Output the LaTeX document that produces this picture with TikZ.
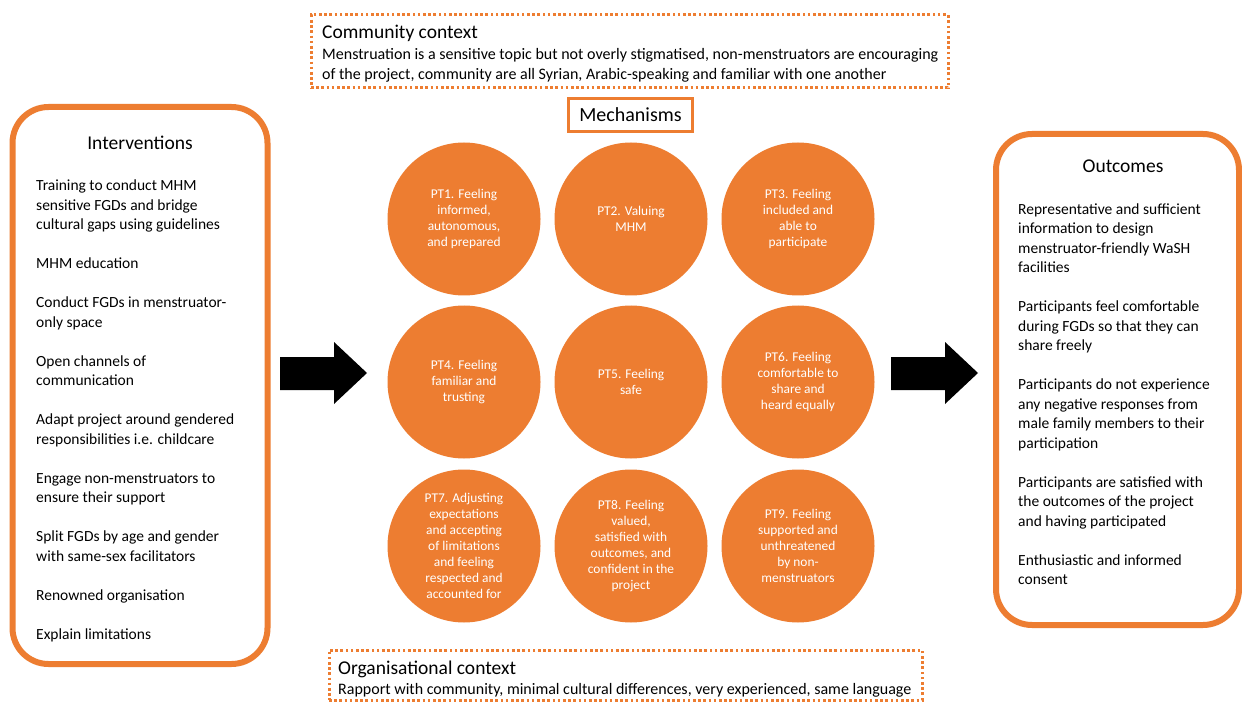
\documentclass[tikz,border=0pt]{standalone}
\usepackage{fontspec}
\setmainfont{Carlito}
\definecolor{accent}{HTML}{ED7D31}
\begin{document}
\begin{tikzpicture}[x=1pt,y=-1pt,
  panel/.style={draw=accent,line width=6pt,rounded corners=36pt,fill=white},
  contextbox/.style={draw=accent,line width=3pt,dash pattern=on 2.6pt off 2.6pt},
  mechbox/.style={draw=accent,line width=3.5pt,inner sep=0pt,minimum width=124pt,minimum height=33pt,
    font=\fontsize{20}{24}\selectfont},
  ptcircle/.style={circle,fill=accent,minimum size=153pt,inner sep=0pt,text=white,align=center,
    font=\fontsize{13.4}{16}\selectfont},
  heading/.style={inner sep=0pt,font=\fontsize{19.5}{23}\selectfont},
  bodytext/.style={inner sep=0pt,align=left,anchor=north west,font=\fontsize{15.5}{19.5}\selectfont},
  contexttext/.style={inner sep=0pt,align=left,font=\fontsize{16}{20}\selectfont},
  blockarrow/.style={fill=black}
]
\useasboundingbox[fill=white] (0,0) rectangle (1242,703);

% context boxes
\node[contextbox,minimum width=637pt,minimum height=73pt,inner sep=0pt] (community) at (629.5,51.5) {};
\node[heading,anchor=base west] (communityhead) at (322,39) {Community context};
\node[contexttext,anchor=north west] (communitytext) at (322,48)
  {Menstruation is a sensitive topic but not overly stigmatised, non-menstruators are encouraging\\
   of the project, community are all Syrian, Arabic-speaking and familiar with one another};

\node[contextbox,minimum width=593pt,minimum height=50pt,inner sep=0pt] (organisation) at (625.5,675) {};
\node[heading,anchor=base west] (orghead) at (338,674) {Organisational context};
\node[contexttext,anchor=base west] (orgtext) at (338,694)
  {Rapport with community, minimal cultural differences, very experienced, same language};

% side panels
\node[panel,minimum width=255pt,minimum height=557pt] (interventions) at (140,385.5) {};
\node[heading,anchor=base] (inthead) at (140,150) {Interventions};
\node[bodytext] (inttext) at (36,180)
  {Training to conduct MHM\\
   sensitive FGDs and bridge\\
   cultural gaps using guidelines\\[19.5pt]
   MHM education\\[19.5pt]
   Conduct FGDs in menstruator-\\
   only space\\[19.5pt]
   Open channels of\\
   communication\\[19.5pt]
   Adapt project around gendered\\
   responsibilities i.e. childcare\\[19.5pt]
   Engage non-menstruators to\\
   ensure their support\\[19.5pt]
   Split FGDs by age and gender\\
   with same-sex facilitators\\[19.5pt]
   Renowned organisation\\[19.5pt]
   Explain limitations};

\node[panel,minimum width=243pt,minimum height=491pt] (outcomes) at (1117.5,379.5) {};
\node[heading,anchor=base] (outhead) at (1123,173) {Outcomes};
\node[bodytext] (outtext) at (1018,203.5)
  {Representative and sufficient\\
   information to design\\
   menstruator-friendly WaSH\\
   facilities\\[19.5pt]
   Participants feel comfortable\\
   during FGDs so that they can\\
   share freely\\[19.5pt]
   Participants do not experience\\
   any negative responses from\\
   male family members to their\\
   participation\\[19.5pt]
   Participants are satisfied with\\
   the outcomes of the project\\
   and having participated\\[19.5pt]
   Enthusiastic and informed\\
   consent};

% mechanisms
\node[mechbox] (mech) at (630.5,115) {Mechanisms};

\node[ptcircle] (pt1) at (464,219) {PT1. Feeling\\informed,\\autonomous,\\and prepared};
\node[ptcircle] (pt2) at (631,219) {PT2. Valuing\\MHM};
\node[ptcircle] (pt3) at (798,219) {PT3. Feeling\\included and\\able to\\participate};
\node[ptcircle] (pt4) at (464,382) {PT4. Feeling\\familiar and\\trusting};
\node[ptcircle] (pt5) at (631,382) {PT5. Feeling\\safe};
\node[ptcircle] (pt6) at (798,382) {PT6. Feeling\\comfortable to\\share and\\heard equally};
\node[ptcircle] (pt7) at (464,546) {PT7. Adjusting\\expectations\\and accepting\\of limitations\\and feeling\\respected and\\accounted for};
\node[ptcircle] (pt8) at (631,546) {PT8. Feeling\\valued,\\satisfied with\\outcomes, and\\confident in the\\project};
\node[ptcircle] (pt9) at (798,546) {PT9. Feeling\\supported and\\unthreatened\\by non-\\menstruators};

% flow arrows (block shapes)
\fill[blockarrow] (280,357) -- (334,357) -- (334,342) -- (367,373) -- (334,404) -- (334,390) -- (280,390) -- cycle;
\fill[blockarrow] (891,357) -- (945,357) -- (945,342) -- (978,373) -- (945,404) -- (945,390) -- (891,390) -- cycle;
\end{tikzpicture}
\end{document}
